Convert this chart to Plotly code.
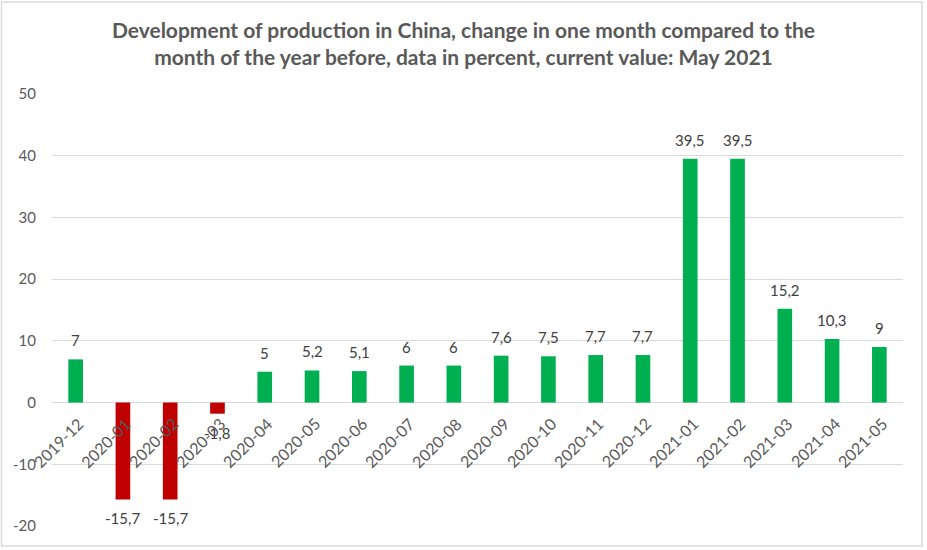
import plotly.graph_objects as go

categories = ["2019-12", "2020-01", "2020-02", "2020-03", "2020-04", "2020-05", "2020-06",
              "2020-07", "2020-08", "2020-09", "2020-10", "2020-11", "2020-12", "2021-01",
              "2021-02", "2021-03", "2021-04", "2021-05"]
values = [7, -15.7, -15.7, -1.8, 5, 5.2, 5.1, 6, 6, 7.6, 7.5, 7.7, 7.7, 39.5, 39.5, 15.2, 10.3, 9]
y_ticks = [-20, -10, 0, 10, 20, 30, 40, 50]
y_tick_text = ["-20", "-10", "0", "10", "20", "30", "40", "50"]

GREEN = "#00B050"
RED = "#C00000"
FONT = "Lato, 'Open Sans', sans-serif"

colors = [GREEN if v >= 0 else RED for v in values]
labels = [("%g" % v).replace(".", ",") for v in values]

fig = go.Figure()
fig.add_trace(go.Bar(x=categories, y=values, marker=dict(color=colors, line=dict(width=0)),
                     hoverinfo="skip"))

annotations = []
for c, v, t in zip(categories, values, labels):
    annotations.append(dict(x=c, y=v, text=t, showarrow=False, xanchor="center", yanchor="middle",
                            yshift=19 if v >= 0 else -19,
                            font=dict(family=FONT, size=15, color="#404040")))
    annotations.append(dict(x=c, y=0, text=c, showarrow=False, textangle=-45,
                            xanchor="right", yanchor="top", xshift=14, yshift=-8,
                            font=dict(family=FONT, size=16, color="#595959")))

fig.update_layout(
    width=927, height=550,
    margin=dict(l=52, r=24, t=94, b=24),
    paper_bgcolor="white", plot_bgcolor="white",
    title=dict(text="<b>Development of production in China, change in one month compared to the<br>month of the year before, data in percent, current value: May 2021</b>",
               x=0.5, xanchor="center", y=0.931, yanchor="top",
               font=dict(family=FONT, size=21, color="#595959")),
    bargap=0.69,
    showlegend=False,
    annotations=annotations,
    xaxis=dict(type="category", showticklabels=False, showgrid=False, zeroline=False, showline=False,
               range=[-0.5, len(categories) - 0.5]),
    yaxis=dict(range=[-20, 50], tickvals=y_ticks, ticktext=y_tick_text, showgrid=True,
               gridcolor="#D9D9D9", gridwidth=1,
               zeroline=True, zerolinecolor="#D9D9D9", zerolinewidth=1, showline=False,
               ticks="", ticklabelstandoff=15,
               tickfont=dict(family=FONT, size=15, color="#595959")),
    shapes=[dict(type="rect", xref="paper", yref="paper", x0=-0.0593, x1=1.0223, y0=-0.0463, y1=1.213,
                 line=dict(color="#D9D9D9", width=1.5), fillcolor="rgba(0,0,0,0)", layer="below")],
)

fig.write_html("out.html", config={"displayModeBar": False},
               post_script="document.body.style.margin='0px';")
